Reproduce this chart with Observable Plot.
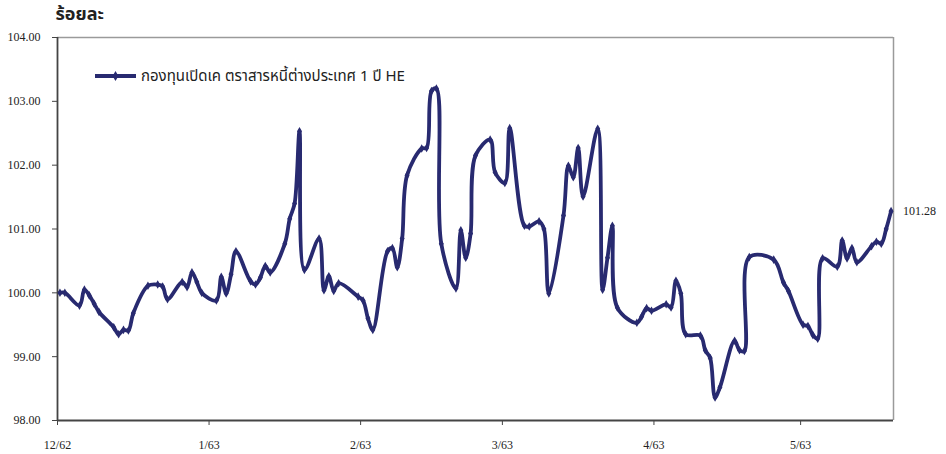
<!DOCTYPE html>
<html>
<head>
<meta charset="utf-8">
<script src="https://cdn.jsdelivr.net/npm/d3@7"></script>
<script src="https://cdn.jsdelivr.net/npm/@observablehq/plot@0.6"></script>
<style>
  html, body { margin: 0; padding: 0; background: #fff; }
  #wrap { position: relative; width: 946px; height: 454px; }
  #legend { position: absolute; left: 0; top: 0; pointer-events: none; }
</style>
</head>
<body>
<div id="wrap"></div>
<script>
// ---- data ----
const dates = [
  "2019-12-01","2019-12-02","2019-12-05","2019-12-06","2019-12-07","2019-12-08","2019-12-09",
  "2019-12-12","2019-12-13","2019-12-14","2019-12-15","2019-12-16","2019-12-19","2019-12-21",
  "2019-12-22","2019-12-23","2019-12-26","2019-12-27","2019-12-28","2019-12-29","2019-12-30",
  "2020-01-02","2020-01-03","2020-01-04","2020-01-05","2020-01-06","2020-01-09","2020-01-10",
  "2020-01-11","2020-01-12","2020-01-13","2020-01-16","2020-01-17","2020-01-18","2020-01-19",
  "2020-01-20","2020-01-23","2020-01-24","2020-01-25","2020-01-26","2020-01-27","2020-01-31",
  "2020-02-01","2020-02-02","2020-02-03","2020-02-06","2020-02-07","2020-02-08","2020-02-09",
  "2020-02-10","2020-02-13","2020-02-14","2020-02-15","2020-02-16","2020-02-17","2020-02-20",
  "2020-02-21","2020-02-22","2020-02-23","2020-02-24","2020-02-27","2020-02-28",
  "2020-03-01","2020-03-02","2020-03-05","2020-03-06","2020-03-08","2020-03-09","2020-03-10",
  "2020-03-13","2020-03-14","2020-03-15","2020-03-16","2020-03-17","2020-03-20","2020-03-21",
  "2020-03-22","2020-03-23","2020-03-24","2020-03-28","2020-03-29","2020-03-30","2020-03-31",
  "2020-04-03","2020-04-04","2020-04-05","2020-04-06","2020-04-07","2020-04-10","2020-04-11",
  "2020-04-12","2020-04-13","2020-04-14","2020-04-17","2020-04-18","2020-04-19","2020-04-20",
  "2020-04-25","2020-04-27","2020-04-28",
  "2020-05-01","2020-05-02","2020-05-03","2020-05-04","2020-05-05","2020-05-08","2020-05-09",
  "2020-05-10","2020-05-11","2020-05-12","2020-05-15","2020-05-16","2020-05-17","2020-05-18",
  "2020-05-19"
];
const values = [
  100.00,100.00,99.80,100.05,99.96,99.83,99.70,
  99.46,99.35,99.42,99.41,99.68,100.11,100.13,
  100.10,99.90,100.17,100.09,100.32,100.17,100.00,
  99.88,100.25,99.99,100.29,100.65,100.18,100.13,
  100.24,100.42,100.32,100.77,101.16,101.40,102.53,
  100.36,100.85,100.04,100.26,100.03,100.15,99.94,
  99.88,99.60,99.42,100.65,100.70,100.40,100.85,
  101.84,102.26,102.27,103.16,103.20,100.77,100.07,
  100.98,100.55,100.93,102.15,102.40,101.89,
  101.72,102.58,101.05,101.04,101.12,101.00,99.99,
  101.21,101.99,101.81,102.27,101.51,102.57,100.05,
  100.55,101.05,99.77,99.53,99.63,99.76,99.72,
  99.82,99.77,100.19,99.99,99.35,99.33,99.10,
  98.98,98.36,98.52,99.25,99.10,99.09,100.56,
  100.52,100.16,100.03,
  99.50,99.48,99.34,99.28,100.54,100.41,100.82,
  100.54,100.70,100.48,100.73,100.80,100.77,101.00,
  101.28
];
const seriesName = "กองทุนเปิดเค ตราสารหนี้ต่างประเทศ 1 ปี HE";
const yTitle = "ร้อยละ";
const yTicks = [98, 99, 100, 101, 102, 103, 104];
const xTickDates = ["2019-12-01","2020-01-01","2020-02-01","2020-03-01","2020-04-01","2020-05-01"];
const xTickLabels = ["12/62","1/63","2/63","3/63","4/63","5/63"];
const xDomain = ["2019-12-01","2020-05-20"];

// ---- build table ----
const data = dates.map((d, i) => ({date: new Date(d + "T12:00:00Z"), value: values[i]}));
const tickDates = xTickDates.map(d => new Date(d + "T00:00:00Z"));
const domainX = xDomain.map(d => new Date(d + "T00:00:00Z"));
const labelFor = d => xTickLabels[tickDates.findIndex(t => +t === +d)];

const color = "#282a70";
const serif = "'Liberation Serif', 'Times New Roman', serif";
const sans = "'Noto Sans Thai', Tahoma, 'Liberation Sans', 'Noto Sans', sans-serif";

const chart = Plot.plot({
  width: 946,
  height: 454,
  marginLeft: 57,
  marginRight: 53,
  marginTop: 37,
  marginBottom: 34,
  style: {background: "#fff", overflow: "visible"},
  x: {type: "utc", domain: domainX},
  y: {domain: [98, 104]},
  marks: [
    Plot.ruleY([104], {stroke: "#9a9a9a", strokeWidth: 1.5}),
    Plot.ruleX([domainX[1]], {stroke: "#9a9a9a", strokeWidth: 1.5}),
    Plot.axisY({ticks: yTicks, tickFormat: d3.format(".2f"), tickSize: 5, tickPadding: 12,
      fontFamily: serif, fontSize: 12, stroke: "#444", color: "#222", label: null}),
    Plot.axisX({ticks: tickDates, tickFormat: labelFor, tickSize: 5, tickPadding: 15,
      fontFamily: serif, fontSize: 12, stroke: "#444", color: "#222", label: null}),
    Plot.ruleX([domainX[0]], {stroke: "#444", strokeWidth: 1.8}),
    Plot.ruleY([98], {stroke: "#444", strokeWidth: 1.8}),
    Plot.line(data, {x: "date", y: "value", stroke: color, strokeWidth: 3.8,
      curve: "catmull-rom"}),
    Plot.dot(data, {x: "date", y: "value", symbol: "diamond", r: 2.6, fill: color, stroke: "none"}),
    Plot.text(data.slice(-1), {x: "date", y: "value", text: d => d.value.toFixed(2), dx: 12,
      textAnchor: "start", fontFamily: serif, fontSize: 12, fill: "#222"}),
    Plot.text([yTitle], {frameAnchor: "top-left", dx: -2, dy: -30, textAnchor: "start",
      fontFamily: sans, fontSize: 18, fontWeight: "bold", fill: "#222"})
  ]
});
document.getElementById("wrap").appendChild(chart);

// legend (inside plot area, top-left)
const ns = "http://www.w3.org/2000/svg";
const leg = document.createElementNS(ns, "svg");
leg.setAttribute("id", "legend");
leg.setAttribute("width", 946);
leg.setAttribute("height", 120);
const ln = document.createElementNS(ns, "line");
ln.setAttribute("x1", 95); ln.setAttribute("x2", 136);
ln.setAttribute("y1", 76); ln.setAttribute("y2", 76);
ln.setAttribute("stroke", color); ln.setAttribute("stroke-width", 3.8);
leg.appendChild(ln);
const dm = document.createElementNS(ns, "path");
dm.setAttribute("d", d3.symbol(d3.symbolDiamond, 30)());
dm.setAttribute("transform", "translate(115.5,76)");
dm.setAttribute("fill", color);
leg.appendChild(dm);
const tx = document.createElementNS(ns, "text");
tx.setAttribute("x", 141); tx.setAttribute("y", 81);
tx.setAttribute("font-family", sans);
tx.setAttribute("font-size", 15);
tx.setAttribute("fill", "#222");
tx.textContent = seriesName;
leg.appendChild(tx);
document.getElementById("wrap").appendChild(leg);
</script>
</body>
</html>
